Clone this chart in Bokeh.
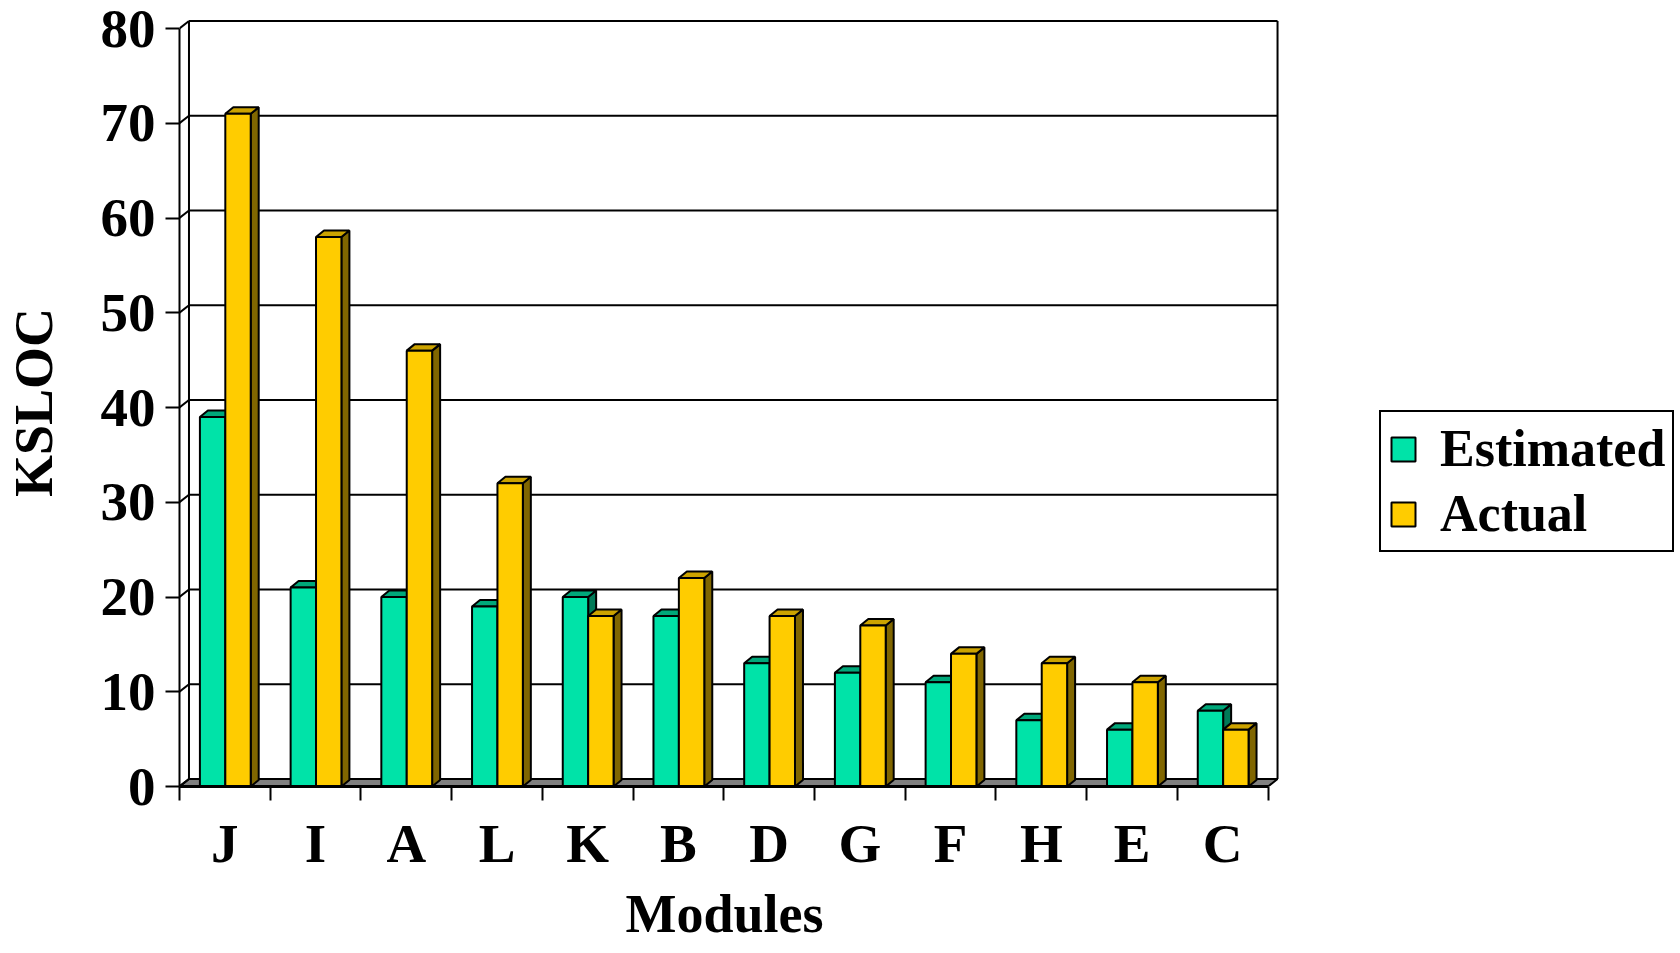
from bokeh.plotting import figure
from bokeh.models import FixedTicker, Range1d, Legend, LegendItem, Title
from bokeh.embed import file_html
from bokeh.resources import INLINE

# KSLOC per module, sorted by actual size
modules = ["J", "I", "A", "L", "K", "B", "D", "G", "F", "H", "E", "C"]
estimated = [39, 21, 20, 19, 20, 18, 13, 12, 11, 7, 6, 8]
actual = [71, 58, 46, 32, 18, 22, 18, 17, 14, 13, 11, 6]
y_ticks = [0, 10, 20, 30, 40, 50, 60, 70, 80]

FONT = "Liberation Serif"

# frame geometry (pixels) and the resulting data scale; the frame spans the
# legend area too, so the legend is not clipped
BORDER_L, BORDER_T, BORDER_B = 177, 18, 167
FRAME_W = 1680 - BORDER_L
FRAME_H = 953 - BORDER_T - BORDER_B
PX_X = 1090 / len(modules)          # pixels per category
PX_Y = (FRAME_H - 10) / 80          # pixels per KSLOC
x_end = len(modules) + (FRAME_W - len(modules) * PX_X) / PX_X
y_end = 80 + (FRAME_H - 80 * PX_Y) / PX_Y

# pseudo-3D depth of the walls and of the bars, in data units
WALL_DX, WALL_DY = 9.5 / PX_X, 7.5 / PX_Y
BAR_DX, BAR_DY = 8 / PX_X, 6.5 / PX_Y
BAR_W = 0.28
EST_OFF = 0.225

p = figure(width=1680, height=953, output_backend="svg", toolbar_location=None,
           x_range=Range1d(0, x_end), y_range=Range1d(0, y_end),
           min_border_left=BORDER_L, min_border_right=0,
           min_border_top=BORDER_T, min_border_bottom=BORDER_B)
p.outline_line_color = None
p.xgrid.visible = False
p.ygrid.visible = False
p.background_fill_color = "white"
p.border_fill_color = "white"

n = len(modules)

# floor
p.patch([0, n, n + WALL_DX, WALL_DX], [0, 0, WALL_DY, WALL_DY],
        fill_color="#808080", line_color="black", line_width=2)

# back-wall gridlines, left-wall connectors and wall edges
p.multi_line([[WALL_DX, n + WALL_DX] for v in y_ticks[1:]],
             [[v + WALL_DY, v + WALL_DY] for v in y_ticks[1:]],
             line_color="black", line_width=2)
p.multi_line([[0, WALL_DX] for v in y_ticks],
             [[v, v + WALL_DY] for v in y_ticks],
             line_color="black", line_width=2)
p.multi_line([[WALL_DX, WALL_DX], [n + WALL_DX, n + WALL_DX]],
             [[WALL_DY, 80 + WALL_DY], [WALL_DY, 80 + WALL_DY]],
             line_color="black", line_width=2)


def draw_bars(values, offset, front, top, side):
    lefts = [i + offset for i in range(n)]
    rights = [l + BAR_W for l in lefts]
    p.patches([[r, r + BAR_DX, r + BAR_DX, r] for r in rights],
              [[0, BAR_DY, v + BAR_DY, v] for v in values],
              fill_color=side, line_color="black", line_width=2)
    p.patches([[l, r, r + BAR_DX, l + BAR_DX] for l, r in zip(lefts, rights)],
              [[v, v, v + BAR_DY, v + BAR_DY] for v in values],
              fill_color=top, line_color="black", line_width=2)
    return p.quad(left=lefts, right=rights, bottom=[0] * n, top=values,
                  fill_color=front, line_color="black", line_width=2)


est_r = draw_bars(estimated, EST_OFF, "#00E3A8", "#00A87A", "#007A58")
act_r = draw_bars(actual, EST_OFF + BAR_W, "#FFCC00", "#CCA300", "#806600")

# value axis
ya = p.yaxis[0]
ya.ticker = FixedTicker(ticks=y_ticks, minor_ticks=[])
ya.bounds = (0, 80)
ya.axis_line_width = 2
ya.major_tick_line_width = 2
ya.major_tick_out = 14
ya.major_tick_in = 0
ya.major_label_standoff = 10
ya.major_label_text_font = FONT
ya.major_label_text_font_style = "bold"
ya.major_label_text_font_size = "55px"
ya.major_label_text_color = "black"
ya.axis_label = "KSLOC"
ya.axis_label_text_font = FONT
ya.axis_label_text_font_style = "bold"
ya.axis_label_text_font_size = "54px"
ya.axis_label_text_color = "black"
ya.axis_label_standoff = 34

# category axis: labels at bar-group centres, separators as minor ticks
xa = p.xaxis[0]
centers = [i + 0.5 for i in range(n)]
xa.ticker = FixedTicker(ticks=centers, minor_ticks=list(range(n + 1)))
xa.major_label_overrides = {c: m for c, m in zip(centers, modules)}
xa.bounds = (0, n)
xa.axis_line_width = 3
xa.major_tick_out = 0
xa.major_tick_in = 0
xa.minor_tick_out = 14
xa.minor_tick_in = 0
xa.minor_tick_line_width = 2
xa.major_label_standoff = 12
xa.major_label_text_font = FONT
xa.major_label_text_font_style = "bold"
xa.major_label_text_font_size = "55px"
xa.major_label_text_color = "black"

# category-axis title, centred under the twelve categories
TITLE_PX_WIDTH = 198                 # approx. width of the bold 54px word
axis_center_px = BORDER_L + n * PX_X / 2
xtitle = Title(text="Modules", align="left",
               offset=axis_center_px - TITLE_PX_WIDTH / 2 - BORDER_L,
               text_font=FONT, text_font_style="bold", text_font_size="54px",
               text_color="black", standoff=10)
p.add_layout(xtitle, "below")

legend = Legend(items=[LegendItem(label="Estimated", renderers=[est_r]),
                       LegendItem(label="Actual", renderers=[act_r])],
                location=(1200, 234))
legend.label_text_font = FONT
legend.label_text_font_style = "bold"
legend.label_text_font_size = "52px"
legend.label_text_color = "black"
legend.glyph_width = 30
legend.glyph_height = 30
legend.label_standoff = 22
legend.padding = 7
legend.spacing = 6
legend.margin = 0
legend.border_line_color = "black"
legend.border_line_alpha = 1
legend.border_line_width = 2
legend.background_fill_color = "white"
legend.background_fill_alpha = 1
p.add_layout(legend)

open("out.html", "w").write(file_html(p, INLINE))
